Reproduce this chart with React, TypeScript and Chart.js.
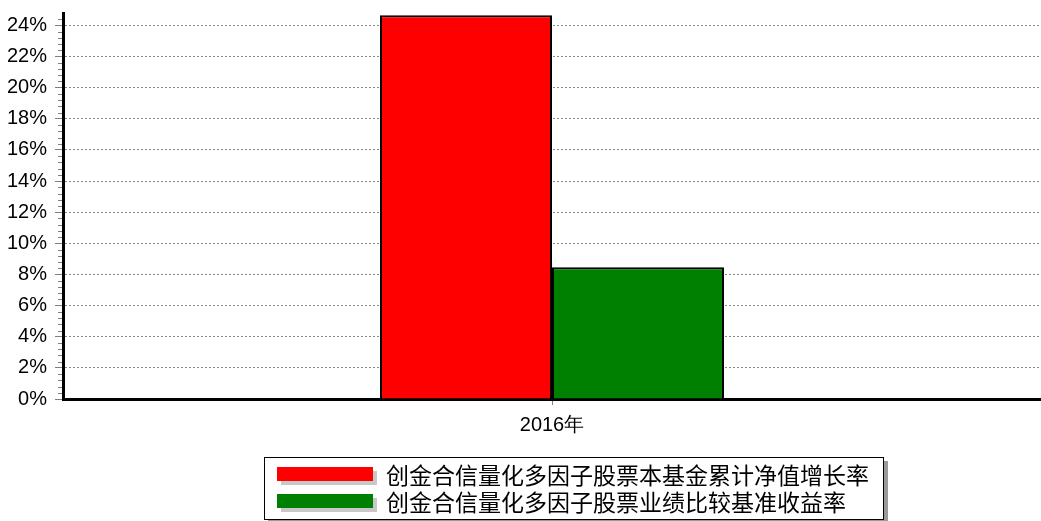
import React, { useEffect, useRef } from 'react';
import { Chart, registerables } from 'chart.js';

Chart.register(...registerables);

const categories = ['2016年'];
const seriesNames = [
  '创金合信量化多因子股票本基金累计净值增长率',
  '创金合信量化多因子股票业绩比较基准收益率',
];
const fundReturn = [24.65];
const benchmarkReturn = [8.47];
const seriesColors = ['#ff0000', '#008000'];
const yMin = 0;
const yMax = 24.8;
const yStep = 2;
const yMinorStep = 0.4;

const decorPlugin = {
  id: 'decor',
  afterDraw(chart: any) {
    const ctx = chart.ctx as CanvasRenderingContext2D;
    const area = chart.chartArea;
    const ys = chart.scales.y;
    ctx.save();
    // minor ticks on the y axis
    ctx.strokeStyle = '#808080';
    ctx.lineWidth = 1;
    for (let k = 1; k * yMinorStep < yMax; k++) {
      const v = k * yMinorStep;
      if (Math.abs(v / yStep - Math.round(v / yStep)) < 1e-6) continue;
      const py = Math.round(ys.getPixelForValue(v)) + 0.5;
      ctx.beginPath();
      ctx.moveTo(area.left - 5, py);
      ctx.lineTo(area.left - 1, py);
      ctx.stroke();
    }

    // custom legend box
    const boxL = 264;
    const boxT = 457;
    const boxW = 620;
    const boxH = 63;
    ctx.fillStyle = '#9a9a9a';
    ctx.fillRect(boxL + 4, boxT + 4, boxW, boxH);
    ctx.fillStyle = '#ffffff';
    ctx.fillRect(boxL, boxT, boxW, boxH);
    ctx.strokeStyle = '#000000';
    ctx.lineWidth = 1;
    ctx.strokeRect(boxL + 0.5, boxT + 0.5, boxW - 1, boxH - 1);

    ctx.font = '23px "Noto Sans CJK SC", sans-serif';
    ctx.textBaseline = 'middle';
    ctx.textAlign = 'left';
    const rows = [474, 501];
    chart.data.datasets.forEach((ds: any, i: number) => {
      const cy = rows[i];
      const sx = 277;
      const sw = 96;
      const sh = 14;
      const sy = Math.round(cy - sh / 2);
      ctx.fillStyle = '#c8c8c8';
      ctx.fillRect(sx + 4, sy + 4, sw, sh);
      ctx.fillStyle = ds.backgroundColor;
      ctx.fillRect(sx, sy, sw, sh);
      ctx.fillStyle = '#000000';
      ctx.fillText(ds.label, 386, cy + 1);
    });
    ctx.restore();
  },
};

export default function App() {
  const canvasRef = useRef<HTMLCanvasElement | null>(null);

  useEffect(() => {
    if (!canvasRef.current) return;
    Chart.defaults.font.family = '"Liberation Sans", Arial, sans-serif';
    Chart.defaults.color = '#000000';
    const chart = new Chart(canvasRef.current, {
      type: 'bar',
      data: {
        labels: categories,
        datasets: [
          {
            label: seriesNames[0],
            data: fundReturn,
            backgroundColor: seriesColors[0],
            borderColor: '#000000',
            borderWidth: 2,
          },
          {
            label: seriesNames[1],
            data: benchmarkReturn,
            backgroundColor: seriesColors[1],
            borderColor: '#000000',
            borderWidth: 2,
          },
        ],
      },
      options: {
        animation: false,
        responsive: true,
        maintainAspectRatio: false,
        layout: { padding: { top: 13, right: 0, left: 0, bottom: 0 } },
        datasets: {
          bar: { barPercentage: 1, categoryPercentage: 0.3517 },
        },
        plugins: {
          legend: { display: false },
          tooltip: { enabled: false },
        },
        scales: {
          x: {
            offset: true,
            grid: {
              display: true,
              drawOnChartArea: false,
              drawTicks: true,
              tickLength: 6,
              tickColor: '#808080',
              offset: false,
            },
            border: { display: true, color: '#000000', width: 3 },
            ticks: {
              font: { size: 20 },
              color: '#000000',
              padding: 8,
            },
            afterFit(scale: any) {
              scale.height = 122;
              scale.paddingLeft = 0;
              scale.paddingRight = 0;
            },
          },
          y: {
            min: yMin,
            max: yMax,
            grid: {
              display: true,
              color: '#8a8a8a',
              lineWidth: 1,
              drawTicks: true,
              tickLength: 8,
              tickColor: '#808080',
            },
            border: { display: true, color: '#000000', width: 3, dash: [2, 2] },
            ticks: {
              stepSize: yStep,
              includeBounds: false,
              font: { size: 20 },
              color: '#000000',
              padding: 8,
              callback: (v: any) => `${v}%`,
            },
            afterFit(scale: any) {
              scale.width = 63;
              scale.paddingTop = 0;
              scale.paddingBottom = 0;
            },
          },
        },
      },
      plugins: [decorPlugin],
    });
    return () => chart.destroy();
  }, []);

  return (
    <div style={{ position: 'absolute', left: 0, top: 0, width: 1041, height: 521 }}>
      <canvas ref={canvasRef} />
    </div>
  );
}
